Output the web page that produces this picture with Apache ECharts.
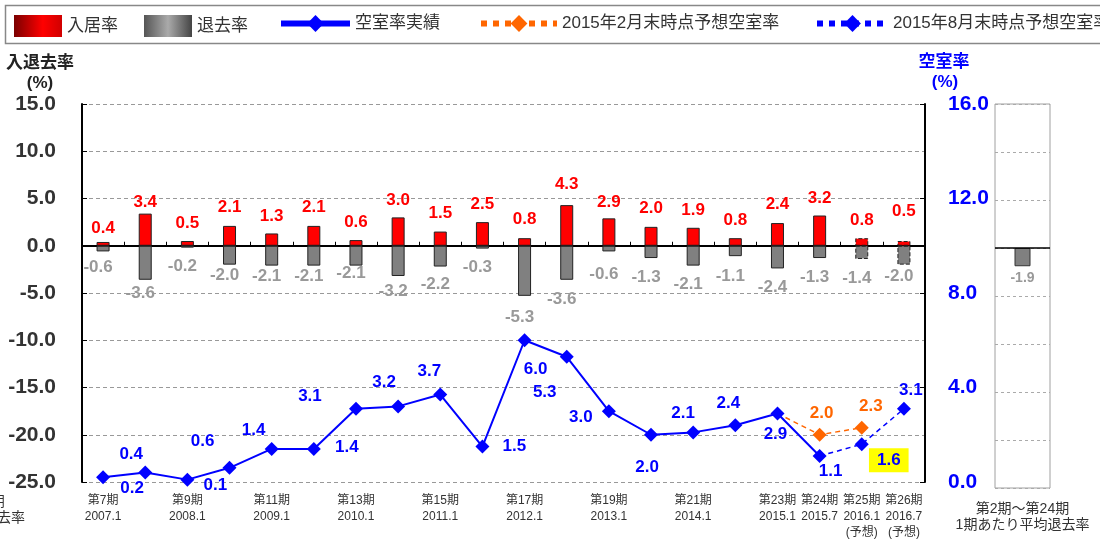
<!DOCTYPE html>
<html><head><meta charset="utf-8">
<script src="https://cdn.jsdelivr.net/npm/echarts@6/dist/echarts.min.js"></script>
<style>html,body{margin:0;padding:0;background:#fff}#c{width:1100px;height:541px}</style>
</head><body><div id="c"></div>
<script>
// ---- data ----
const categories = ['第7期\n2007.1','第8期\n2007.7','第9期\n2008.1','第10期\n2008.7','第11期\n2009.1','第12期\n2009.7',
  '第13期\n2010.1','第14期\n2010.7','第15期\n2011.1','第16期\n2011.7','第17期\n2012.1','第18期\n2012.7',
  '第19期\n2013.1','第20期\n2013.7','第21期\n2014.1','第22期\n2014.7','第23期\n2015.1','第24期\n2015.7',
  '第25期\n2016.1\n(予想)','第26期\n2016.7\n(予想)'];
const moveIn  = [0.4,3.4,0.5,2.1,1.3,2.1,0.6,3.0,1.5,2.5,0.8,4.3,2.9,2.0,1.9,0.8,2.4,3.2,0.8,0.5];
const moveOut = [-0.6,-3.6,-0.2,-2.0,-2.1,-2.1,-2.1,-3.2,-2.2,-0.3,-5.3,-3.6,-0.6,-1.3,-2.1,-1.1,-2.4,-1.3,-1.4,-2.0];
const vacancyActual = [0.2,0.4,0.1,0.6,1.4,1.4,3.1,3.2,3.7,1.5,6.0,5.3,3.0,2.0,2.1,2.4,2.9,1.1,null,null];
const vacancyFeb = [null,null,null,null,null,null,null,null,null,null,null,null,null,null,null,null,2.9,2.0,2.3,null];
const vacancyAug = [null,null,null,null,null,null,null,null,null,null,null,null,null,null,null,null,null,1.1,1.6,3.1];
const avgCategory = ['第2期～第24期\n1期あたり平均退去率'];
const avgMoveOut = [-1.9];
const leftTicks = {min:-25, max:15, interval:5};
const rightTicks = {min:0, max:16, interval:4};
const forecastStart = 18; // 第25期 onward bars are forecasts

// ---- label layout (positions only) ----
const inLabelDy  = [4,6,0,-1,0,-1,0,0,-1,0,-1,-3,1,-1,0,0,-1,0,0,-12];
const outLabelDy = [5,3,8,0,0,0,-3,5,7,8,11,9,12,9,8,10,8,9,9,1];
const actualOff = [[29,11],[-14,-18],[28,6],[-27,-27],[-18,-19],[33,-2],[-46,-12],[-14,-24],[-11,-23],[32,0],
  [11,29],[-22,36],[-28,6],[-4,33],[-10,-19],[-7,-22],[-2,21],[11,15]];
const febOff = {17:[2,-21],18:[9,-21]};
const augOff = {18:[27,16],19:[7,-18]};

const FONT = '"Liberation Sans", Arial, "Noto Sans CJK JP", sans-serif';
const BLUE = '#0000FF', ORANGE = '#FF6600', RED = '#FF0000', GREY = '#808080';
const fmt = p => Number(p.value).toFixed(1);

const redGrad = new echarts.graphic.LinearGradient(0,0,1,0,[{offset:0,color:'#7a0000'},{offset:0.6,color:'#ff0000'},{offset:1,color:'#d00000'}]);
const greyGrad = new echarts.graphic.LinearGradient(0,0,1,0,[{offset:0,color:'#555'},{offset:0.5,color:'#aaa'},{offset:1,color:'#444'}]);

const inData = moveIn.map((v,i)=>({value:v,
  itemStyle: i>=forecastStart ? {borderType:'dashed'} : {},
  label:{offset:[0,inLabelDy[i]]}}));
const outData = moveOut.map((v,i)=>({value:v,
  itemStyle: i>=forecastStart ? {borderType:'dashed'} : {},
  label:{offset:[-5,outLabelDy[i]]}}));
const actualData = vacancyActual.map((v,i)=> v==null ? null : {value:v, label:{offset:actualOff[i]}});
const febData = vacancyFeb.map((v,i)=>{
  if (v==null) return null;
  if (!febOff[i]) return {value:v, symbol:'none', label:{show:false}};
  return {value:v, label:{offset:febOff[i]}};
});
const augData = vacancyAug.map((v,i)=>{
  if (v==null) return null;
  if (!augOff[i]) return {value:v, symbol:'none', label:{show:false}};
  const o = {value:v, label:{offset:augOff[i]}};
  if (i===18) o.label = {offset:augOff[i], backgroundColor:'#FFFF00', padding:[4,8,3,8]};
  return o;
});

const lineLabel = (color) => ({show:true, position:'inside', formatter:fmt, color:color, fontSize:17, fontWeight:'bold', fontFamily:FONT});

const legendText = {fontSize:17, color:'#333', fontFamily:FONT};
const option = {
  animation:false,
  backgroundColor:'#fff',
  textStyle:{fontFamily:FONT},
  legend:[
    {left:14, top:15, padding:0, itemWidth:48, itemHeight:22, icon:'rect', selectedMode:false, textStyle:legendText,
     data:[{name:'入居率', itemStyle:{color:redGrad, borderWidth:0}}]},
    {left:144, top:15, padding:0, itemWidth:48, itemHeight:22, icon:'rect', selectedMode:false, textStyle:legendText,
     data:[{name:'退去率', itemStyle:{color:greyGrad, borderWidth:0}}]},
    {left:278, top:15, padding:0, itemWidth:69, itemHeight:21, selectedMode:false, textStyle:legendText,
     lineStyle:{width:6, type:'solid'}, data:['空室率実績']},
    {left:478, top:15, padding:0, itemWidth:76, itemHeight:21, selectedMode:false, textStyle:legendText,
     lineStyle:{width:6, type:[6,6]}, data:['2015年2月末時点予想空室率']},
    {left:814, top:15, padding:0, itemWidth:71, itemHeight:21, selectedMode:false, textStyle:legendText,
     lineStyle:{width:6, type:[6,6]}, data:['2015年8月末時点予想空室率']}
  ],
  grid:[
    {left:82, width:843, top:104, height:384},
    {left:995, width:55, top:104, height:384, show:true, borderColor:'#a0a0a0', borderWidth:1}
  ],
  xAxis:[
    {type:'category', gridIndex:0, data:categories, position:'bottom',
     axisLine:{show:false, onZero:false}, axisTick:{show:false},
     axisLabel:{interval:(i)=> i%2===0 || i>=17, color:'#333', fontSize:12, lineHeight:16, margin:11, fontFamily:FONT}},
    {type:'category', gridIndex:0, data:categories, position:'top',
     axisLine:{show:true, onZero:true, onZeroAxisIndex:0, lineStyle:{color:'#000', width:2}},
     axisTick:{show:true, interval:0, length:4, lineStyle:{color:'#000', width:1}},
     axisLabel:{show:false}},
    {type:'category', gridIndex:1, data:avgCategory,
     axisLine:{show:false, onZero:false}, axisTick:{show:false},
     axisLabel:{color:'#333', fontSize:14, lineHeight:16, margin:13, fontFamily:FONT}}
  ],
  yAxis:[
    {type:'value', gridIndex:0, position:'left', min:leftTicks.min, max:leftTicks.max, interval:leftTicks.interval,
     axisLine:{show:true, lineStyle:{color:'#000', width:2}},
     axisTick:{show:true, inside:true, length:5, lineStyle:{color:'#000'}},
     axisLabel:{formatter:v=>v.toFixed(1), color:'#333', fontSize:21, fontWeight:'bold', margin:26, fontFamily:FONT},
     splitLine:{show:true, lineStyle:{color:'#999', type:[4,3], width:1}}},
    {type:'value', gridIndex:0, position:'right', min:rightTicks.min, max:rightTicks.max, interval:rightTicks.interval,
     axisLine:{show:true, lineStyle:{color:'#000', width:2}},
     axisTick:{show:true, inside:true, length:5, lineStyle:{color:'#000'}},
     axisLabel:{formatter:v=>v.toFixed(1), color:BLUE, fontSize:21, fontWeight:'bold', margin:23, fontFamily:FONT},
     splitLine:{show:false}},
    {type:'value', gridIndex:1, min:leftTicks.min, max:leftTicks.max, interval:leftTicks.interval,
     axisLine:{show:false}, axisTick:{show:false}, axisLabel:{show:false},
     splitLine:{show:true, lineStyle:{color:'#aaa', type:[3,3], width:1}}}
  ],
  series:[
    {name:'入居率', type:'bar', xAxisIndex:0, yAxisIndex:0, data:inData, barWidth:13, barGap:'-100%', z:3,
     itemStyle:{color:RED, borderColor:'#222', borderWidth:1},
     label:{show:true, position:'top', distance:9, formatter:fmt, color:RED, fontSize:17, fontWeight:'bold', fontFamily:FONT}},
    {name:'退去率', type:'bar', xAxisIndex:0, yAxisIndex:0, data:outData, barWidth:13, barGap:'-100%', z:3,
     itemStyle:{color:GREY, borderColor:'#222', borderWidth:1},
     label:{show:true, position:'bottom', distance:2, formatter:fmt, color:'#999', fontSize:17, fontWeight:'bold', fontFamily:FONT}},
    {name:'2015年2月末時点予想空室率', type:'line', xAxisIndex:0, yAxisIndex:1, data:febData, z:4,
     symbol:'diamond', symbolSize:14, connectNulls:false,
     itemStyle:{color:ORANGE}, lineStyle:{color:ORANGE, width:1.5, type:[5,4]},
     label:lineLabel(ORANGE)},
    {name:'2015年8月末時点予想空室率', type:'line', xAxisIndex:0, yAxisIndex:1, data:augData, z:5,
     symbol:'diamond', symbolSize:14,
     itemStyle:{color:BLUE}, lineStyle:{color:BLUE, width:1.5, type:[5,4]},
     label:lineLabel(BLUE)},
    {name:'空室率実績', type:'line', xAxisIndex:0, yAxisIndex:1, data:actualData, z:6,
     symbol:'diamond', symbolSize:14,
     itemStyle:{color:BLUE}, lineStyle:{color:BLUE, width:2},
     label:lineLabel(BLUE)},
    {name:'平均退去率', type:'bar', xAxisIndex:2, yAxisIndex:2, data:avgMoveOut, barWidth:16,
     itemStyle:{color:GREY, borderColor:'#333', borderWidth:1},
     label:{show:true, position:'bottom', distance:5, formatter:fmt, color:'#999', fontSize:14, fontWeight:'bold', fontFamily:FONT},
     markLine:{silent:true, symbol:'none', label:{show:false}, lineStyle:{color:'#000', width:1.5, type:'solid'},
       data:[{yAxis:0}]}}
  ],
  graphic:[
    {type:'rect', left:3, top:3, shape:{width:1120, height:38}, style:{fill:'none', stroke:'#888', lineWidth:1.5}, silent:true},
    {type:'text', x:40, y:63, style:{text:'入退去率', fill:'#222', font:'bold 17px '+FONT, align:'center', verticalAlign:'middle', textAlign:'center', textVerticalAlign:'middle'}},
    {type:'text', x:40, y:83, style:{text:'(%)', fill:'#222', font:'bold 17px '+FONT, align:'center', verticalAlign:'middle', textAlign:'center', textVerticalAlign:'middle'}},
    {type:'text', x:944, y:62, style:{text:'空室率', fill:BLUE, font:'bold 17px '+FONT, align:'center', verticalAlign:'middle', textAlign:'center', textVerticalAlign:'middle'}},
    {type:'text', x:945, y:82, style:{text:'(%)', fill:BLUE, font:'bold 17px '+FONT, align:'center', verticalAlign:'middle', textAlign:'center', textVerticalAlign:'middle'}},
    {type:'text', x:-42, y:494, style:{text:avgCategory[0], fill:'#333', font:'14px '+FONT, lineHeight:16, align:'center', verticalAlign:'top', textAlign:'center', textVerticalAlign:'top'}}
  ]
};
const chart = echarts.init(document.getElementById('c'), null, {renderer:'canvas'});
chart.setOption(option);
</script>
</body></html>
